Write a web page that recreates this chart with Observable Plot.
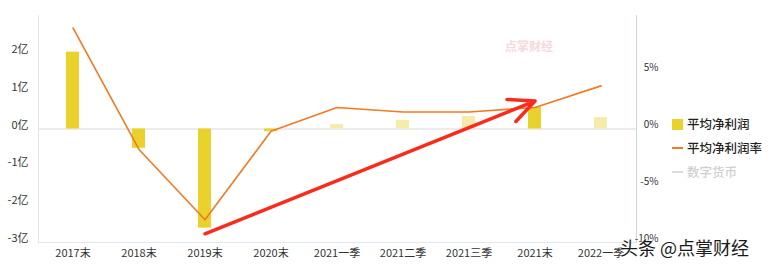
<!DOCTYPE html>
<html>
<head>
<meta charset="utf-8">
<script src="https://cdn.jsdelivr.net/npm/d3@7"></script>
<script src="https://cdn.jsdelivr.net/npm/@observablehq/plot@0.6"></script>
<style>
  html, body { margin: 0; padding: 0; background: #fff; }
  #wrap { position: relative; width: 771px; height: 268px; overflow: hidden; font-family: "Noto Sans CJK SC", "Noto Sans", sans-serif; }
  #chart svg { display: block; }
  .legend { position: absolute; left: 672px; top: 112px; font-size: 12.5px; font-weight: 500; line-height: 24px; }
  .legend .row { display: flex; align-items: center; height: 24px; }
  .legend .sw { width: 11px; height: 11px; margin-right: 4px; }
  .legend .dash { width: 11px; height: 2px; margin-right: 4px; }
  .wm1 { position: absolute; left: 505px; top: 37px; font-size: 12px; font-weight: bold; color: #f6d9dc; }
  .wm2 { position: absolute; left: 620px; top: 235px; font-size: 18px; line-height: 24px; color: #1a1a1a;
         text-shadow: 0 0 2px #fff, 0 0 2px #fff, 0 0 2px #fff; }
</style>
</head>
<body>
<div id="wrap">
  <div id="chart"></div>
  <div class="wm1">点掌财经</div>
  <div class="legend">
    <div class="row" style="color:#222"><div class="sw" style="background:#e9d22b"></div>平均净利润</div>
    <div class="row" style="color:#222"><div class="dash" style="background:#f47920"></div>平均净利润率</div>
    <div class="row" style="color:#cfcfcf"><div class="dash" style="background:#dcdcdc"></div>数字货币</div>
  </div>
  <div class="wm2">头条 @点掌财经</div>
</div>
<script>
// categories
const categories = ["2017末", "2018末", "2019末", "2020末", "2021一季", "2021二季", "2021三季", "2021末", "2022一季"];
// average net profit (亿)
const profit = [2.03, -0.51, -2.62, -0.07, 0.12, 0.23, 0.33, 0.57, 0.30];
// average net profit margin (%)
const margin = [8.9, -1.8, -8.0, -0.2, 1.9, 1.5, 1.5, 1.9, 3.8];
// left axis ticks (亿)
const leftTicks = [-3, -2, -1, 0, 1, 2];
// right axis ticks (%)
const rightTicks = [-10, -5, 0, 5];
// arrow annotation (from / to) in data units (亿)
const arrowFrom = {cat: "2019末", value: -2.77};
const arrowTo = {cat: "2021末", value: 0.74};

const pctToYi = 3 / 10; // right axis -10%..10% aligned to left -3..3亿

const bars = categories.map((c, i) => ({cat: c, v: profit[i]}));
const line = categories.map((c, i) => ({cat: c, v: margin[i] * pctToYi}));

const chart = Plot.plot({
  width: 771,
  height: 268,
  marginLeft: 38,
  marginRight: 135,
  marginTop: 15,
  marginBottom: 26,
  style: {fontFamily: '"Noto Sans CJK SC", "Noto Sans", sans-serif', fontSize: "11px", color: "#333", background: "#fff"},
  x: {domain: categories, paddingInner: 0.8, paddingOuter: 0.4},
  y: {domain: [-3, 3]},
  marks: [
    Plot.ruleY([0], {stroke: "#ececec", strokeWidth: 2}),
    Plot.frame({anchor: "left", stroke: "#dfe6f0"}),
    Plot.frame({anchor: "bottom", stroke: "#e3e8f0"}),
    Plot.frame({anchor: "right", stroke: "#c6d6ee"}),
    Plot.barY(bars, {x: "cat", y: "v", fill: d => d.cat.endsWith("末") ? "#e9d22b" : "#f5eca9"}),
    Plot.lineY(line, {x: "cat", y: "v", stroke: "#f47920", strokeWidth: 1.6}),
    Plot.arrow([{x1: arrowFrom.cat, y1: arrowFrom.value, x2: arrowTo.cat, y2: arrowTo.value}],
      {x1: "x1", y1: "y1", x2: "x2", y2: "y2", stroke: "#fb2a1c", strokeWidth: 3.5, headLength: 12, headAngle: 50}),
    Plot.axisY({anchor: "left", ticks: leftTicks, tickFormat: d => d + "亿", tickSize: 0, tickPadding: 10, dy: -4, fill: "#333"}),
    Plot.axisY({anchor: "right", ticks: rightTicks.map(t => t * pctToYi), tickFormat: d => Math.round(d / pctToYi) + "%",
      tickSize: 0, tickPadding: 22, textAnchor: "end", dy: -4, fontSize: 10, fill: "#333"}),
    Plot.axisX({tickSize: 0, tickPadding: 7, fill: "#333"})
  ]
});
document.getElementById("chart").appendChild(chart);
</script>
</body>
</html>
